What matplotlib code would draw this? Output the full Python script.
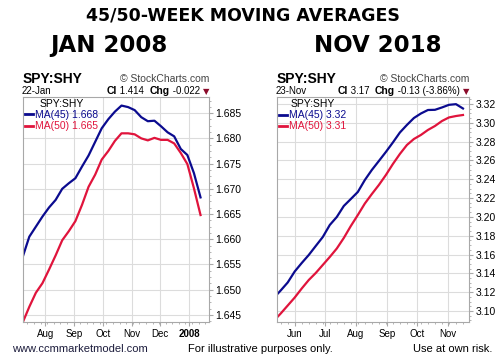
import numpy as np
import pandas as pd
import matplotlib
matplotlib.use("Agg")
from matplotlib import pyplot as plt
import matplotlib.dates as mdates
from matplotlib.ticker import MultipleLocator, FormatStrFormatter
from matplotlib.lines import Line2D

# ---- data (weekly points) ----
dates_2008 = pd.date_range("2007-07-08", periods=28, freq="7D")
ma45_2008 = [1.6565, 1.6605, 1.6625, 1.6645, 1.6663, 1.6678, 1.6700, 1.6711,
             1.6721, 1.6744, 1.6766, 1.6793, 1.6820, 1.6838, 1.6853, 1.6865,
             1.6862, 1.6856, 1.6842, 1.6834, 1.6835, 1.6824, 1.6812, 1.6804,
             1.6779, 1.6767, 1.6731, 1.6683]
ma50_2008 = [1.6435, 1.6466, 1.6494, 1.6513, 1.6540, 1.6568, 1.6598, 1.6616,
             1.6636, 1.6668, 1.6704, 1.6728, 1.6758, 1.6775, 1.6795, 1.6810,
             1.6810, 1.6808, 1.6800, 1.6796, 1.6801, 1.6797, 1.6797, 1.6790,
             1.6771, 1.6749, 1.6701, 1.6648]

dates_2018 = pd.date_range("2018-05-11", periods=28, freq="7D")
ma45_2018 = [3.1138, 3.1218, 3.1303, 3.1420, 3.1510, 3.1595, 3.1691, 3.1786,
             3.1914, 3.1999, 3.2116, 3.2190, 3.2265, 3.2392, 3.2499, 3.2594,
             3.2690, 3.2791, 3.2897, 3.2977, 3.3051, 3.3099, 3.3136, 3.3138,
             3.3163, 3.3191, 3.3198, 3.3152]
ma50_2018 = [3.0894, 3.0973, 3.1058, 3.1143, 3.1239, 3.1329, 3.1404, 3.1489,
             3.1574, 3.1664, 3.1776, 3.1903, 3.2020, 3.2142, 3.2243, 3.2339,
             3.2445, 3.2562, 3.2669, 3.2764, 3.2828, 3.2871, 3.2924, 3.2966,
             3.3019, 3.3057, 3.3072, 3.3083]

BLUE = "#0b0b8f"
RED = "#e0143c"
GRID = "#dcdcdc"
SPINE = "#a8a8a8"
W, H = 498, 359

plt.rcParams["font.family"] = ["Liberation Sans", "DejaVu Sans"]

fig = plt.figure(figsize=(W / 100, H / 100), dpi=100)


def fx(x):
    return x / W


def fy(y):
    return 1 - y / H


# right-aligned header line built from pieces chained leftwards
def header_line(x_right, y, parts):
    prev = None
    for txt, wt, col, size, fam in reversed(parts):
        if prev is None:
            prev = fig.text(x_right, y, txt, fontsize=size, fontweight=wt,
                            color=col, ha="right", va="baseline", family=fam)
        else:
            prev = fig.axes[0].annotate(txt, xy=(0, 0), xycoords=prev,
                                        ha="right", va="bottom",
                                        fontsize=size, fontweight=wt,
                                        color=col, family=fam,
                                        annotation_clip=False)


def month_fmt(d, pos=None):
    dt = mdates.num2date(d)
    return str(dt.year) if dt.month == 1 else dt.strftime("%b")


def draw(ax, dates, ma45, ma50, xlim, ylim, ymaj, yfmt, lab45, lab50,
         date_txt, cl, chg):
    ax.plot(dates, ma45, color=BLUE, lw=1.6)
    ax.plot(dates, ma50, color=RED, lw=1.6)
    ax.set_xlim(pd.Timestamp(xlim[0]), pd.Timestamp(xlim[1]))
    ax.set_ylim(*ylim)
    ax.yaxis.tick_right()
    ax.yaxis.set_major_locator(MultipleLocator(ymaj))
    ax.yaxis.set_minor_locator(MultipleLocator(ymaj / 4))
    ax.yaxis.set_major_formatter(FormatStrFormatter(yfmt))
    ax.xaxis.set_major_locator(mdates.MonthLocator())
    ax.xaxis.set_minor_locator(mdates.WeekdayLocator(byweekday=mdates.FR))
    ax.xaxis.set_major_formatter(plt.FuncFormatter(month_fmt))
    ax.tick_params(axis="y", which="major", length=3, pad=1.5, labelsize=7.5,
                   color=SPINE)
    ax.tick_params(axis="y", which="minor", length=1.5, color=SPINE)
    ax.tick_params(axis="x", which="major", length=3, pad=2, labelsize=7,
                   color=SPINE)
    ax.tick_params(axis="x", which="minor", length=1.5, color=SPINE)
    ax.grid(True, which="major", color=GRID, lw=0.8)
    for s in ax.spines.values():
        s.set_color(SPINE)
        s.set_linewidth(0.8)
    ax.set_axisbelow(True)

    handles = [Line2D([], [], color=BLUE, lw=2),
               Line2D([], [], color=RED, lw=2)]
    ax.legend(handles, [lab45, lab50], title="SPY:SHY", loc="upper left",
              frameon=False, fontsize=7.5, title_fontsize=7.5,
              handlelength=0.8, handletextpad=0.2, borderaxespad=0.1,
              borderpad=0.1, labelspacing=0.1, labelcolor=[BLUE, RED])

    bb = ax.get_position()
    fig.text(bb.x0, fy(83), "SPY:SHY", fontsize=10, fontweight="bold",
             va="baseline", ha="left")
    fig.text(bb.x1, fy(82.5), "\u00a9 StockCharts.com", fontsize=7.5,
             color="#444444", va="baseline", ha="right")
    fig.text(bb.x0 - fx(1), fy(94), date_txt, fontsize=7, va="baseline",
             ha="left")
    header_line(bb.x1, fy(94), [
        ("Cl", "bold", "black", 7.5, "Liberation Sans"),
        (" " + cl + "  ", "normal", "black", 7, "Liberation Sans"),
        ("Chg", "bold", "black", 7.5, "Liberation Sans"),
        (" " + chg + " ", "normal", "black", 7, "Liberation Sans"),
        ("\u25bc", "normal", "#8b0a2a", 6, "DejaVu Sans")])


axL = fig.add_axes([fx(22.7), fy(322), fx(209 - 22.7), (322 - 97) / H])
axR = fig.add_axes([fx(276.7), fy(321.7), fx(469 - 276.7), (321.7 - 97.3) / H])

draw(axL, dates_2008, ma45_2008, ma50_2008, ("2007-07-08", "2008-01-22"),
     (1.6436, 1.6882), 0.005, "%.3f", "MA(45) 1.668", "MA(50) 1.665",
     "22-Jan", "1.414", "-0.022")
draw(axR, dates_2018, ma45_2018, ma50_2018, ("2018-05-14", "2018-11-22"),
     (3.0886, 3.3271), 0.02, "%.2f", "MA(45) 3.32", "MA(50) 3.31",
     "23-Nov", "3.17", "-0.13 (-3.86%)")

fig.canvas.draw()
for lbl in axL.get_xticklabels():
    if lbl.get_text().isdigit():
        lbl.set_fontweight("bold")

fig.text(fx(243), fy(15), "45/50-WEEK MOVING AVERAGES", fontsize=12.5,
         fontweight="bold", family="DejaVu Sans", ha="center", va="center")
fig.text(fx(109), fy(45.5), "JAN 2008", fontsize=16.5, fontweight="bold",
         family="DejaVu Sans", ha="center", va="center")
fig.text(fx(377.5), fy(45.5), "NOV 2018", fontsize=16.5, fontweight="bold",
         family="DejaVu Sans", ha="center", va="center")

fig.text(fx(12), fy(349), "www.ccmmarketmodel.com", fontsize=8,
         color="#1c1c3c", ha="left", va="center")
fig.text(fx(188), fy(349), "For illustrative purposes only.", fontsize=8,
         ha="left", va="center")
fig.text(fx(492), fy(349), "Use at own risk.", fontsize=8,
         ha="right", va="center")

fig.savefig("out.png", dpi=100)
